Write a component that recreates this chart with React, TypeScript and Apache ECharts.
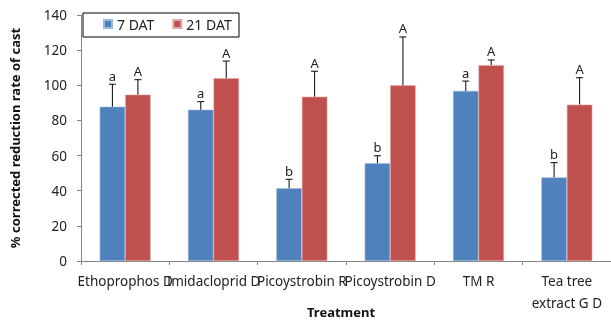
import React, { useEffect, useRef } from "react";
import * as echarts from "echarts";

const categories = ["Ethoprophos D", "Imidacloprid D", "Picoystrobin R", "Picoystrobin D", "TM R", "Tea tree\nextract G D"];
const dat7 = [87.8, 86.1, 41.4, 55.6, 96.8, 47.6];
const dat7Err = [100.6, 90.7, 46.5, 59.9, 102.4, 56.0];
const dat7Letters = ["a", "a", "b", "b", "a", "b"];
const dat21 = [94.7, 104.0, 93.5, 100.0, 111.5, 89.0];
const dat21Err = [103.2, 113.8, 108.0, 127.5, 114.4, 104.3];
const dat21Letters = ["A", "A", "A", "A", "A", "A"];

const FONT = "'Noto Sans', sans-serif";
const BAR_W = 25.5;

function errSeries(name: string, vals: number[], tops: number[], letters: string[], offset: number) {
  return {
    type: "custom",
    name,
    silent: true,
    z: 5,
    data: vals.map((v, i) => [i, v, tops[i]]),
    renderItem: (params: any, api: any) => {
      const i = api.value(0);
      const base = api.coord([i, api.value(1)]);
      const top = api.coord([i, api.value(2)]);
      const x = base[0] + offset;
      return {
        type: "group",
        children: [
          { type: "line", shape: { x1: x, y1: base[1], x2: x, y2: top[1] }, style: { stroke: "#1a1a1a", lineWidth: 1.1 } },
          { type: "line", shape: { x1: x - 3.5, y1: top[1], x2: x + 3.5, y2: top[1] }, style: { stroke: "#1a1a1a", lineWidth: 1.1 } },
          {
            type: "text",
            style: { text: letters[params.dataIndex], x, y: top[1] - 2, align: "center", verticalAlign: "bottom", fontSize: 13, fontFamily: FONT, fill: "#222" },
          },
        ],
      };
    },
  };
}

export default function App() {
  const ref = useRef<HTMLDivElement>(null);
  useEffect(() => {
    if (!ref.current) return;
    const chart = echarts.init(ref.current, null, { renderer: "svg" });
    chart.setOption({
      animation: false,
      textStyle: { fontFamily: FONT },
      grid: { left: 79, top: 15, right: -2, bottom: 62, containLabel: false },
      legend: {
        left: 103,
        top: 17,
        data: ["7 DAT", "21 DAT"],
        icon: "rect",
        itemWidth: 8,
        itemHeight: 8,
        itemGap: 18,
        padding: [0, 0, 0, 0],
        textStyle: { fontSize: 14, color: "#222", fontFamily: FONT },
      },
      xAxis: {
        type: "category",
        data: categories,
        axisLine: { lineStyle: { color: "#868686" } },
        axisTick: { show: true, length: 4, lineStyle: { color: "#868686" } },
        axisLabel: { fontSize: 13.5, color: "#222", margin: 9, interval: 0, lineHeight: 22 },
      },
      yAxis: {
        type: "value",
        min: 0,
        max: 140,
        interval: 20,
        name: "% corrected reduction rate of cast",
        nameLocation: "middle",
        nameRotate: 90,
        nameGap: 60,
        nameTextStyle: { fontSize: 13, fontWeight: "bold", color: "#111" },
        axisLine: { show: true, lineStyle: { color: "#868686" } },
        axisTick: { show: true, length: 4, lineStyle: { color: "#868686" } },
        axisLabel: { fontSize: 13.5, color: "#222", margin: 14 },
        splitLine: { show: false },
      },
      graphic: [
        {
          type: "rect",
          shape: { x: 83, y: 13, width: 156, height: 24 },
          style: { fill: "#fff", stroke: "#000", lineWidth: 1 },
          z: 0,
        },
        {
          type: "text",
          left: 307,
          top: 305,
          style: { text: "Treatment", fontSize: 13, fontWeight: "bold", fill: "#111", fontFamily: FONT },
        },
      ],
      series: [
        {
          type: "bar",
          name: "7 DAT",
          data: dat7,
          barWidth: BAR_W,
          barGap: "0%",
          itemStyle: { color: "#4F81BD", borderColor: "#9DB9DE", borderWidth: 0.6 },
        },
        {
          type: "bar",
          name: "21 DAT",
          data: dat21,
          barWidth: BAR_W,
          barGap: "0%",
          itemStyle: { color: "#C0504D", borderColor: "#E6A8A6", borderWidth: 0.6 },
        },
        errSeries("e7", dat7, dat7Err, dat7Letters, -BAR_W / 2),
        errSeries("e21", dat21, dat21Err, dat21Letters, BAR_W / 2),
      ],
    });
    return () => chart.dispose();
  }, []);
  return <div ref={ref} style={{ position: "fixed", left: 0, top: 0, width: 611, height: 323 }} />;
}
